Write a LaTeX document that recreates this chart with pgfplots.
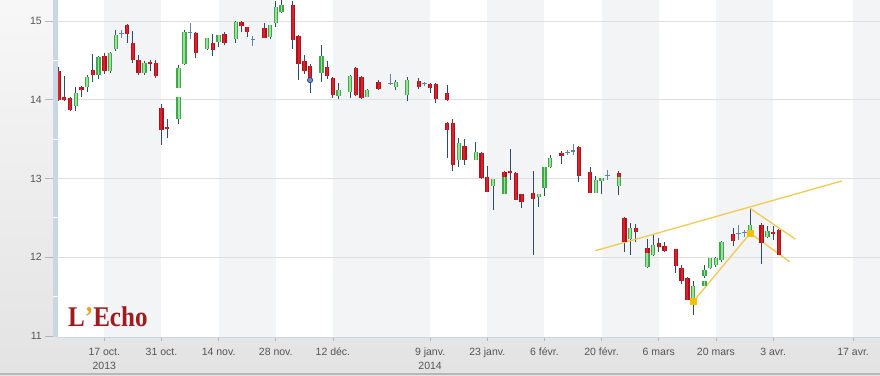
\documentclass[border=0pt]{standalone}
\usepackage{pgfplots}
\pgfplotsset{compat=1.18}
\usepackage{pgfplotstable}
\usepackage{fontspec}
\setmainfont{Liberation Sans}
\newfontfamily\logofont{Liberation Serif}
\definecolor{redE}{HTML}{B0101A}
\definecolor{redI}{HTML}{D8222C}
\definecolor{grnE}{HTML}{3EA84A}
\definecolor{grnI}{HTML}{9BE09B}
\definecolor{wick}{HTML}{2E4A6A}
\definecolor{doji}{HTML}{6384A8}
\definecolor{band}{HTML}{F3F4F6}
\definecolor{gridc}{HTML}{DFDFDF}
\definecolor{axbar}{HTML}{C9D6E3}
\definecolor{trend}{HTML}{F2CA50}
\definecolor{sq}{HTML}{F5C000}
\definecolor{logored}{HTML}{9E1B20}
\definecolor{logodot}{HTML}{F0A020}
\definecolor{tickc}{HTML}{B5B5B5}
\definecolor{labc}{HTML}{555555}
\definecolor{evblue}{HTML}{2A4A9A}
\definecolor{evfill}{HTML}{7090D0}

% red candles: index, open, high, low, close
\pgfplotstableread{
i O H L C
-8 14.36 14.42 13.99 14.00
-7 14.03 14.30 13.99 14.00
-6 14.02 14.03 13.86 13.87
-4 14.16 14.17 14.04 14.12
-2 14.38 14.58 14.23 14.32
0 14.55 14.59 14.33 14.36
4 14.95 14.96 14.72 14.84
5 14.72 14.87 14.47 14.51
6 14.51 14.57 14.32 14.34
8 14.48 14.50 14.36 14.45
9 14.47 14.50 14.28 14.30
10 13.90 13.95 13.43 13.62
11 13.66 13.75 13.51 13.63
16 14.85 14.86 14.53 14.60
19 14.72 14.84 14.56 14.63
21 14.84 14.86 14.69 14.72
24 14.99 15.00 14.86 14.94
25 14.92 14.93 14.80 14.86
28 14.91 14.97 14.78 14.78
33 15.20 15.25 14.65 14.76
34 14.81 14.82 14.25 14.46
35 14.49 14.57 14.33 14.36
36 14.43 14.45 14.09 14.26
39 14.41 14.49 14.27 14.30
40 14.28 14.29 14.02 14.06
44 14.40 14.41 14.05 14.06
45 14.29 14.30 14.01 14.02
48 14.23 14.25 14.13 14.14
55 14.24 14.28 14.14 14.16
57 14.20 14.21 14.09 14.15
58 14.20 14.21 13.96 14.01
60 14.08 14.19 13.98 14.00
60 13.70 13.72 13.26 13.62
61 13.70 13.76 13.09 13.17
63 13.41 13.50 13.17 13.23
66 13.33 13.34 13.00 13.01
67 13.02 13.16 12.83 12.83
70 13.08 13.10 13.02 13.02
71 13.09 13.37 12.98 13.07
72 13.07 13.08 12.73 12.73
73 12.80 12.81 12.62 12.70
75 12.82 13.09 12.03 12.74
80 13.33 13.35 13.19 13.28
83 13.40 13.41 12.96 13.03
85 13.08 13.15 12.82 12.82
90 13.07 13.10 13.02 13.02
91 12.50 12.51 12.07 12.19
93 12.37 12.42 12.20 12.32
95 12.12 12.23 12.05 12.05
97 12.18 12.24 12.07 12.13
98 12.14 12.20 12.07 12.08
100 12.10 12.11 11.80 11.89
101 11.86 11.90 11.66 11.70
102 11.74 11.75 11.46 11.46
110 12.30 12.37 12.14 12.21
115 12.41 12.43 11.92 12.18
117 12.32 12.40 12.22 12.30
118 12.35 12.36 12.03 12.03
}\redtab

% green candles
\pgfplotstableread{
i O H L C
-5 13.92 14.16 13.86 14.09
-3 14.16 14.31 14.10 14.29
-1 14.31 14.56 14.26 14.54
1 14.37 14.61 14.34 14.60
2 14.64 14.88 14.62 14.82
7 14.34 14.49 14.32 14.47
13 13.76 14.04 13.69 14.04
13 14.15 14.44 14.15 14.40
14 14.46 14.89 14.44 14.86
18 14.65 14.79 14.63 14.79
20 14.74 14.82 14.67 14.82
23 14.77 15.00 14.72 14.99
29 14.80 14.95 14.77 14.95
30 14.97 15.25 14.93 15.18
31 15.11 15.27 15.10 15.20
38 14.34 14.70 14.23 14.55
41 14.05 14.21 14.01 14.12
43 14.10 14.31 14.02 14.30
46 14.04 14.14 14.03 14.13
51 14.16 14.25 14.13 14.23
53 14.06 14.29 13.98 14.25
62 13.23 13.52 13.15 13.45
65 13.24 13.47 13.23 13.34
68 12.90 12.99 12.60 12.99
70 12.81 13.02 12.80 13.02
76 12.76 12.80 12.64 12.80
77 12.88 13.15 12.78 13.15
78 13.15 13.30 13.13 13.26
86 12.82 13.03 12.82 12.98
87 12.97 13.01 12.80 13.01
90 12.90 13.02 12.79 13.02
92 12.23 12.43 12.03 12.37
95 11.88 12.05 11.86 12.05
96 12.03 12.28 12.02 12.16
103 11.46 11.70 11.27 11.63
105 11.76 11.90 11.74 11.84
105 11.63 11.70 11.63 11.70
106 11.86 11.99 11.85 11.99
107 11.90 12.00 11.88 11.99
108 11.96 12.21 11.94 12.20
113 12.35 12.62 12.33 12.41
116 12.26 12.40 12.24 12.34
}\grntab

% unchanged days (open = close)
\pgfplotstableread{
i O H L C
3 14.84 14.89 14.79 14.84
15 14.85 14.97 14.77 14.85
26 14.77 14.81 14.68 14.77
50 14.21 14.33 14.19 14.21
56 14.21 14.23 14.17 14.21
81 13.33 13.36 13.30 13.33
82 13.35 13.44 13.30 13.35
88 13.04 13.11 12.98 13.04
111 12.30 12.41 12.22 12.30
112 12.31 12.35 12.26 12.31
}\dojitab

\pgfplotsset{
  candlepart/.style={draw=none, mark=none, forget plot, error bars/.cd, y dir=plus, y explicit, error mark=none},
}

\begin{document}
\begin{tikzpicture}
\fill[top color=white!97!black, bottom color=white!89!black] (-58pt,-38pt) rectangle (822pt,337pt);
\fill[white!72!black] (-58pt,-38pt) rectangle (822pt,-35.5pt);
\begin{axis}[
  scale only axis, width=822pt, height=337pt,
  xmin=-8.1, xmax=135.7, ymin=10.988, ymax=15.267,
  clip=false,
  axis line style={draw=none},
  axis background/.style={fill=white},
  xtick={0,10,20,30,40,57,67,77,87,97,107,117,131},
  xticklabels={{17 oct.\\2013},{31 oct.},{14 nov.},{28 nov.},{12 déc.},{9 janv.\\2014},{23 janv.},{6 févr.},{20 févr.},{6 mars},{20 mars},{3 avr.},{17 avr.}},
  ytick={11,12,13,14,15},
  xtick pos=bottom, ytick pos=left,
  tick align=outside, major tick length=4pt,
  xtick style={draw=tickc, line width=0.8pt},
  ytick style={draw=none},
  ticklabel style={font=\fontsize{10.5}{14}\selectfont, text=labc},
  xticklabel style={align=center, anchor=north, inner sep=0pt, yshift=-7pt},
  yticklabel style={anchor=east, inner sep=0pt, xshift=-12pt},
  /pgf/number format/assume math mode=true,
]
% alternating bands
\fill[band] (axis cs:0,10.988) rectangle (axis cs:10,15.267);
\fill[band] (axis cs:20,10.988) rectangle (axis cs:30,15.267);
\fill[band] (axis cs:40,10.988) rectangle (axis cs:57,15.267);
\fill[band] (axis cs:67,10.988) rectangle (axis cs:77,15.267);
\fill[band] (axis cs:87,10.988) rectangle (axis cs:97,15.267);
\fill[band] (axis cs:107,10.988) rectangle (axis cs:117,15.267);
\fill[band] (axis cs:131,10.988) rectangle (axis cs:135.7,15.267);
% grid
\pgfplotsinvokeforeach{12,13,14,15}{
  \draw[gridc, line width=0.8pt] (axis cs:-8.1,#1) -- (axis cs:135.7,#1);
  \draw[tickc, line width=0.8pt] ([xshift=-13pt]axis cs:-8.1,#1) -- ([xshift=-5pt]axis cs:-8.1,#1);
}
\draw[tickc, line width=0.8pt] ([xshift=-13pt]axis cs:-8.1,11) -- ([xshift=-5pt]axis cs:-8.1,11);
% bottom axis line
\draw[axbar, line width=1pt] (axis cs:-8.1,10.988) -- (axis cs:135.7,10.988);

% wicks
\addplot[candlepart, error bar style={draw=wick, line width=1pt}]
  table[x=i, y=L, y error plus expr=\thisrow{H}-\thisrow{L}] {\redtab};
\addplot[candlepart, error bar style={draw=wick, line width=1pt}]
  table[x=i, y=L, y error plus expr=\thisrow{H}-\thisrow{L}] {\grntab};
\addplot[candlepart, error bar style={draw=doji, line width=1pt}]
  table[x=i, y=L, y error plus expr=\thisrow{H}-\thisrow{L}] {\dojitab};
\addplot[draw=none, mark=none, forget plot, error bars/.cd, x dir=both, x fixed=0.42, error mark=none,
  error bar style={draw=doji, line width=1.1pt}]
  table[x=i, y=O] {\dojitab};

% trend lines
\addplot[trend, line width=1.3pt, mark=none] coordinates {(85.86,12.083) (129.0,12.969)};
\addplot[trend, line width=1.3pt, mark=none] coordinates {(103.0,11.436) (113.0,12.305) (119.9,11.944)};
\addplot[trend, line width=1.3pt, mark=none] coordinates {(113.0,12.62) (120.9,12.23)};

% bodies
\addplot[candlepart, error bar style={draw=redE, line width=4.4pt}]
  table[x=i, y=C, y error plus expr=\thisrow{O}-\thisrow{C}] {\redtab};
\addplot[candlepart, error bar style={draw=redI, line width=2pt}]
  table[x=i, y=C, y error plus expr=\thisrow{O}-\thisrow{C}] {\redtab};
\addplot[candlepart, error bar style={draw=grnE, line width=4.4pt}]
  table[x=i, y=O, y error plus expr=\thisrow{C}-\thisrow{O}] {\grntab};
\addplot[candlepart, error bar style={draw=grnI, line width=1.8pt}]
  table[x=i, y=O, y error plus expr=\thisrow{C}-\thisrow{O}] {\grntab};

% markers
\addplot[only marks, mark=square*, mark size=3pt, mark options={fill=sq, draw=sq}] coordinates {(103,11.44) (113,12.31)};
\addplot[only marks, mark=*, mark size=2.6pt, mark options={fill=evfill, draw=evblue, line width=0.8pt}] coordinates {(36,14.25)};

% left axis bar with notches
\draw[axbar, line width=5pt] ([xshift=-2.5pt]axis cs:-8.1,10.988) -- ([xshift=-2.5pt]axis cs:-8.1,15.267);
\pgfplotsinvokeforeach{11.5,12.5,13.5,14.5}{
  \draw[white, line width=1pt] ([xshift=-5pt]axis cs:-8.1,#1) -- (axis cs:-8.1,#1);
}
% logo
\node[anchor=base west, inner sep=0pt, text=logored, xscale=0.88] at ([xshift=10pt, yshift=11pt]axis cs:-8.1,10.988)
  {\logofont\bfseries\fontsize{28.5}{28.5}\selectfont L{\color{logodot}’}Echo};
\end{axis}
\pgfresetboundingbox
\path[use as bounding box] (-58pt,-38pt) rectangle (822pt,337pt);
\end{tikzpicture}
\end{document}
